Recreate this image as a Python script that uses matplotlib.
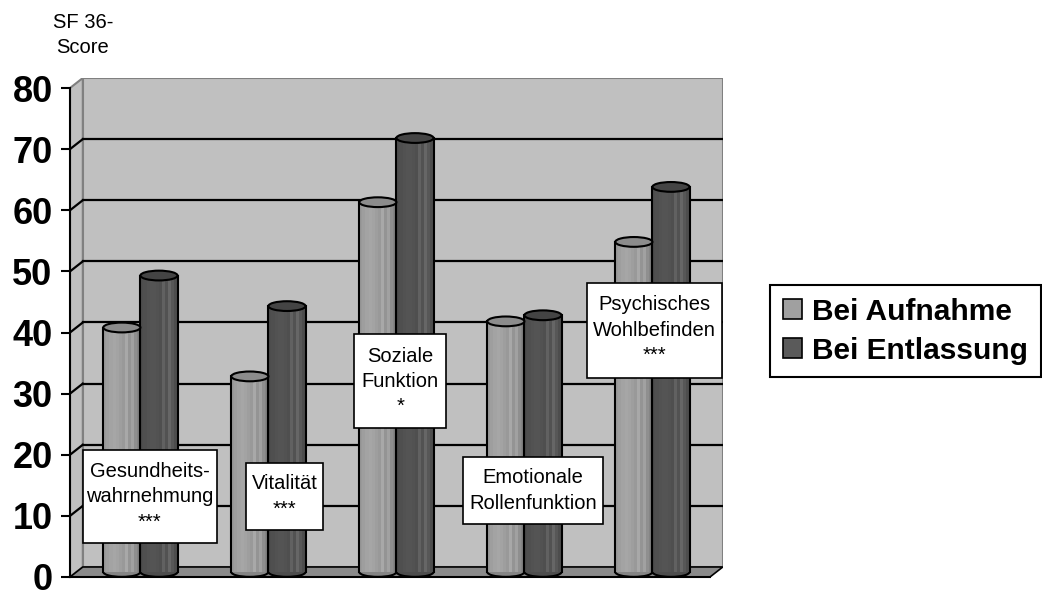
import numpy as np
import matplotlib
matplotlib.use("Agg")
import matplotlib.pyplot as plt
from matplotlib.patches import Ellipse, Polygon, Rectangle, Patch

plt.rcParams["font.family"] = ["Liberation Sans", "DejaVu Sans"]

# SF-36 subscale scores at admission and discharge
categories = ["Gesundheits-\nwahrnehmung\n***", "Vitalität\n***", "Soziale\nFunktion\n*",
              "Emotionale\nRollenfunktion", "Psychisches\nWohlbefinden\n***"]
aufnahme = [40, 32, 60.5, 41, 54]
entlassung = [48.5, 43.5, 71, 42, 63]
series_names = ["Bei Aufnahme", "Bei Entlassung"]
y_ticks = [0, 10, 20, 30, 40, 50, 60, 70, 80]

# box corners for the category labels (x0, y0, x1, y1 in data units)
label_boxes = [(0.10, 5.5, 1.146, 20.8), (1.373, 7.7, 1.979, 18.7), (2.219, 24.3, 2.94, 39.7),
               (3.07, 8.7, 4.164, 19.6), (4.037, 32.6, 5.091, 48.15)]

dx, dy = 0.1, 1.64          # depth offset of the 3d box
bar_w = 0.29
cap_h = 1.6                 # height of the cylinder ellipses

light_shades = [0.60, 0.62, 0.64, 0.65, 0.64, 0.62, 0.60, 0.66, 0.58, 0.63, 0.56, 0.52]
dark_shades = [0.30, 0.31, 0.32, 0.33, 0.33, 0.32, 0.31, 0.38, 0.32, 0.40, 0.34, 0.30]

fig = plt.figure(figsize=(10.42, 5.93), dpi=100)
ax = fig.add_axes([70 / 1042, 16 / 593, 652.8 / 1042, 499 / 593])
ax.set_xlim(0, 5 + dx)
ax.set_ylim(0, 80 + dy)
ax.patch.set_visible(False)

wall = "#c0c0c0"
edge = "#808080"
# back wall, side wall and floor
ax.add_patch(Polygon([(dx, dy), (5 + dx, dy), (5 + dx, 80 + dy), (dx, 80 + dy)],
                     closed=True, fc=wall, ec=edge, lw=1.5, zorder=0))
ax.add_patch(Polygon([(0, 0), (dx, dy), (dx, 80 + dy), (0, 80)],
                     closed=True, fc=wall, ec=edge, lw=1.5, zorder=0))
ax.add_patch(Polygon([(0, 0), (5, 0), (5 + dx, dy), (dx, dy)],
                     closed=True, fc="#8a8a8a", ec="black", lw=1.2, zorder=0.5))

for v in y_ticks[1:-1]:
    ax.plot([dx, 5 + dx], [v + dy, v + dy], color="black", lw=1.6, zorder=1)
    ax.plot([0, dx], [v, v + dy], color="black", lw=1.6, zorder=1)


def cylinder(xl, value, shades, top_color):
    base = dy / 2
    n = len(shades)
    w = bar_w / n
    ax.add_patch(Ellipse((xl + bar_w / 2, base), bar_w, cap_h,
                         fc=str(shades[-1]), ec="black", lw=1.5, zorder=2))
    lefts = xl + np.arange(n) * w
    ax.bar(lefts, value, width=w * 1.05, bottom=base, align="edge",
           color=[str(s) for s in shades], lw=0, zorder=2.1)
    ax.plot([xl, xl], [base, base + value], color="black", lw=1.5, zorder=2.2)
    ax.plot([xl + bar_w, xl + bar_w], [base, base + value], color="black", lw=1.5, zorder=2.2)
    ax.add_patch(Ellipse((xl + bar_w / 2, base + value), bar_w, cap_h,
                         fc=top_color, ec="black", lw=1.5, zorder=2.3))


for i in range(len(categories)):
    c = i + 0.5 + dx / 2
    cylinder(c - bar_w, aufnahme[i], light_shades, "#8c8c8c")
    cylinder(c, entlassung[i], dark_shades, "#444444")

for text, (x0, y0, x1, y1) in zip(categories, label_boxes):
    ax.add_patch(Rectangle((x0, y0), x1 - x0, y1 - y0, fc="white", ec="black",
                           lw=1.2, zorder=4))
    ax.text((x0 + x1) / 2, (y0 + y1) / 2, text, ha="center", va="center",
            fontsize=14.5, linespacing=1.42, zorder=5)

# axis
for side in ["top", "right"]:
    ax.spines[side].set_visible(False)
ax.spines["left"].set_bounds(0, 80)
ax.spines["bottom"].set_bounds(0, 5)
ax.spines["left"].set_linewidth(1.5)
ax.spines["bottom"].set_linewidth(1.5)
ax.spines["left"].set_zorder(3)
ax.spines["bottom"].set_zorder(3)
ax.set_xticks([])
ax.set_yticks(y_ticks)
ax.tick_params(axis="y", length=6.5, width=1.5, pad=6)
for lab in ax.get_yticklabels():
    lab.set_fontsize(26)
    lab.set_fontweight("bold")

fig.text(83 / 1042, 1 - 35 / 593, "SF 36-\nScore", ha="center", va="center",
         fontsize=14.5, linespacing=1.4)

handles = [Patch(fc="#a0a0a0", ec="black", lw=1.2),
           Patch(fc="#5a5a5a", ec="black", lw=1.2)]
leg = fig.legend(handles, series_names, loc="upper left",
                 bbox_to_anchor=(770 / 1042, 1 - 285 / 593),
                 prop={"weight": "bold", "size": 21.5}, fancybox=False,
                 edgecolor="black", framealpha=1, handlelength=0.65, handleheight=0.65,
                 handletextpad=0.35, labelspacing=0.38, borderpad=0.42, borderaxespad=0)
leg.get_frame().set_linewidth(1.5)

fig.savefig("out.png", dpi=100, facecolor="white")
